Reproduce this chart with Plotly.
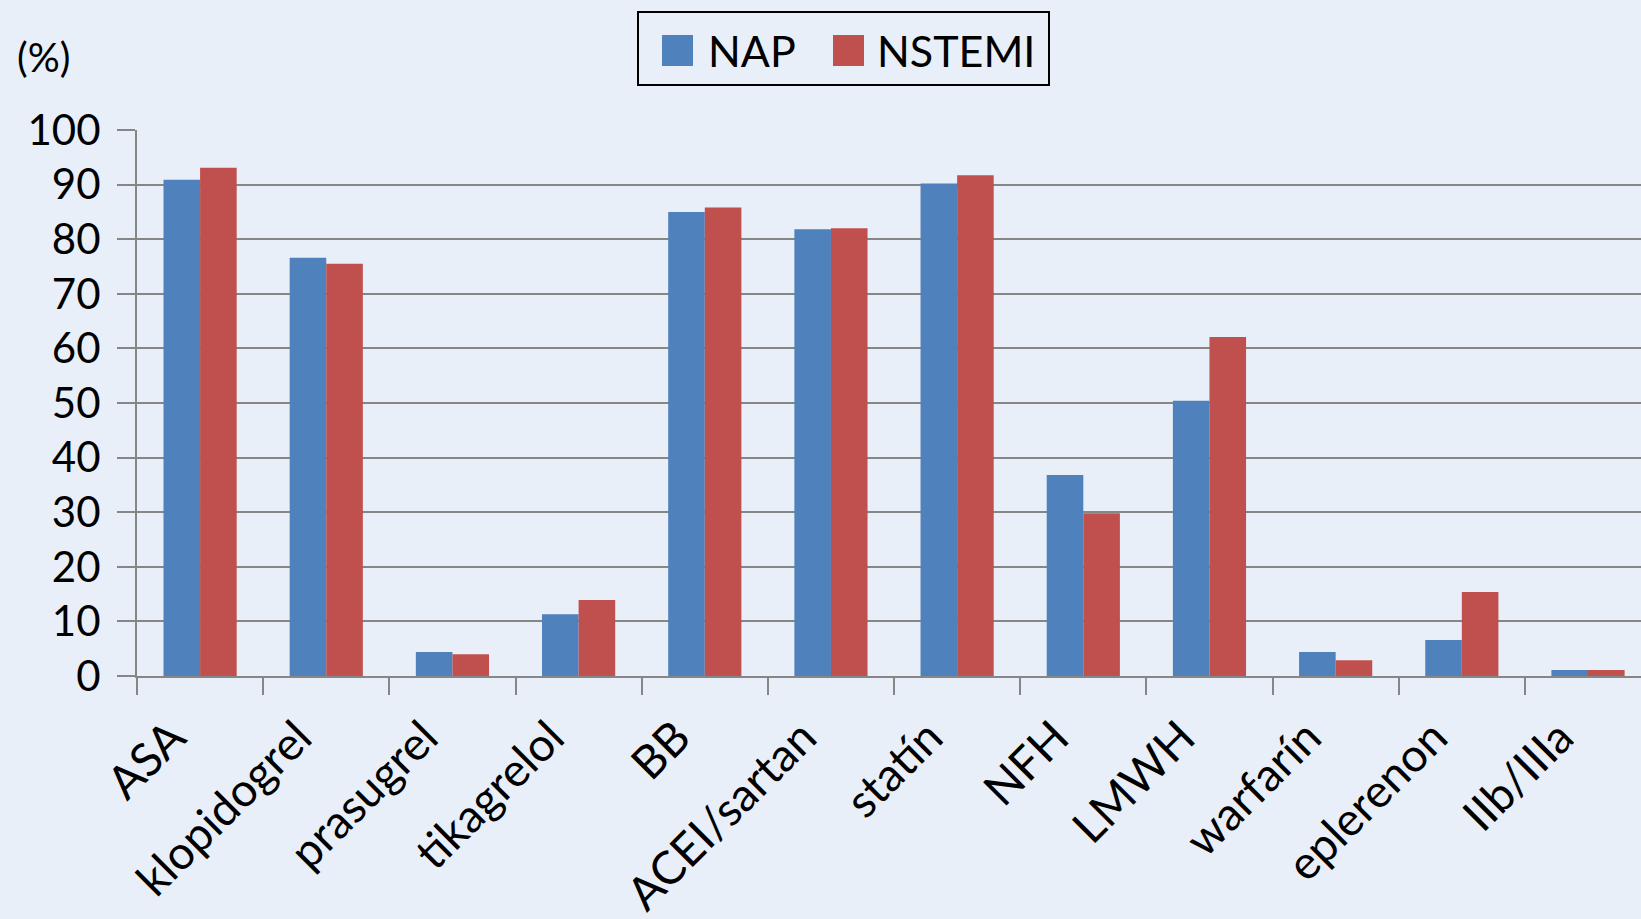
import plotly.graph_objects as go

categories = ["ASA", "klopidogrel", "prasugrel", "tikagrelol", "BB", "ACEI/sartan",
              "statín", "NFH", "LMWH", "warfarín", "eplerenon", "IIb/IIIa"]
nap = [90.9, 76.6, 4.4, 11.3, 85.0, 81.8, 90.2, 36.8, 50.4, 4.4, 6.6, 1.1]
nstemi = [93.1, 75.5, 4.0, 13.9, 85.8, 82.0, 91.7, 29.8, 62.1, 2.9, 15.4, 1.1]
series_names = ["NAP", "NSTEMI"]
y_ticks = list(range(0, 101, 10))

BLUE = "#4F81BD"
RED = "#C0504D"
BG = "#E9EFF8"
GRID = "#868686"
FONT = "Lato"

fig = go.Figure()
fig.add_trace(go.Bar(x=categories, y=nap, name=series_names[0], marker_color=BLUE,
                     marker_line_width=0, showlegend=False))
fig.add_trace(go.Bar(x=categories, y=nstemi, name=series_names[1], marker_color=RED,
                     marker_line_width=0, showlegend=False))

fig.update_layout(
    width=1641, height=919,
    paper_bgcolor=BG, plot_bgcolor=BG,
    margin=dict(l=137, r=0, t=130, b=243),
    barmode="group", bargap=0.42, bargroupgap=0,
    font=dict(family=FONT, size=42, color="black"),
)
fig.update_xaxes(
    range=[-0.5, 11.42], showline=True, linecolor=GRID, linewidth=2,
    ticks="outside", tickson="boundaries", ticklen=17, tickwidth=2, tickcolor=GRID,
    tickangle=-45, tickfont=dict(size=46), showgrid=False,
    ticklabelstandoff=14, ticklabelshift=-28, automargin=False,
)
fig.update_yaxes(
    range=[0, 100], tickvals=y_ticks, showline=True, linecolor=GRID, linewidth=2,
    ticks="outside", ticklen=18, tickwidth=2, tickcolor=GRID,
    showgrid=True, gridcolor=GRID, gridwidth=2, zeroline=False,
    tickfont=dict(size=42), ticklabelstandoff=8, automargin=False,
)

# "(%)" label
fig.add_annotation(text="(%)", xref="paper", yref="paper", x=(43 - 137) / 1504, y=(676 - 57) / 546,
                   xanchor="center", yanchor="middle", showarrow=False,
                   font=dict(size=40))

# legend drawn manually to match the large swatches
fig.add_shape(type="rect", xref="paper", yref="paper",
              x0=(638 - 137) / 1504, x1=(1049 - 137) / 1504,
              y0=(676 - 85) / 546, y1=(676 - 12) / 546,
              line=dict(color="black", width=2), fillcolor=BG)
for name, color, sx, tx in [(series_names[0], BLUE, 662, 706),
                            (series_names[1], RED, 833, 875)]:
    fig.add_shape(type="rect", xref="paper", yref="paper",
                  x0=(sx - 137) / 1504, x1=(sx + 31 - 137) / 1504,
                  y0=(676 - 66) / 546, y1=(676 - 35) / 546,
                  line=dict(width=0), fillcolor=color)
    fig.add_annotation(text=name, xref="paper", yref="paper",
                       x=(tx - 137) / 1504, y=(676 - 50) / 546,
                       xanchor="left", yanchor="middle", showarrow=False,
                       font=dict(size=43))

fig.write_html("out.html", config={"displayModeBar": False},
               post_script="document.body.style.margin='0';")
